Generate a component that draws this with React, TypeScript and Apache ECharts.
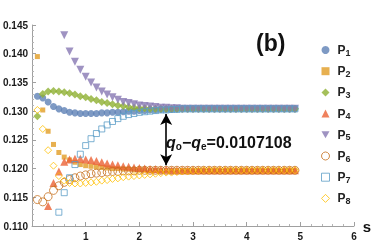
import React, { useEffect, useRef } from "react";
import * as echarts from "echarts";

const S = [0.1, 0.2, 0.3, 0.4, 0.5, 0.6, 0.7, 0.8, 0.9, 1.0, 1.1, 1.2, 1.3, 1.4, 1.5, 1.6, 1.7, 1.8, 1.9, 2.0, 2.1, 2.2, 2.3, 2.4, 2.5, 2.6, 2.7, 2.8, 2.9, 3.0, 3.1, 3.2, 3.3, 3.4, 3.5, 3.6, 3.7, 3.8, 3.9, 4.0, 4.1, 4.2, 4.3, 4.4, 4.5, 4.6, 4.7, 4.8, 4.9];

const P1 = [0.1326, 0.1323, 0.1316, 0.1308, 0.1304, 0.1301, 0.1298, 0.1297, 0.1296, 0.1296, 0.1296, 0.1296, 0.1297, 0.1297, 0.1298, 0.1298, 0.1299, 0.1300, 0.1300, 0.1301, 0.1301, 0.1302, 0.1302, 0.1303, 0.1303, 0.1303, 0.1304, 0.1304, 0.1304, 0.1304, 0.1304, 0.1304, 0.1304, 0.1304, 0.1304, 0.1304, 0.1304, 0.1304, 0.1304, 0.1304, 0.1304, 0.1304, 0.1304, 0.1304, 0.1304, 0.1304, 0.1304, 0.1304, 0.1304];
const P2 = [0.1395, 0.1302, 0.1265, 0.1242, 0.1228, 0.1220, 0.1215, 0.1211, 0.1207, 0.1205, 0.1204, 0.1203, 0.1202, 0.1201, 0.1200, 0.1200, 0.1199, 0.1199, 0.1198, 0.1198, 0.1198, 0.1197, 0.1197, 0.1197, 0.1197, 0.1197, 0.1197, 0.1197, 0.1197, 0.1197, 0.1197, 0.1197, 0.1197, 0.1197, 0.1197, 0.1197, 0.1197, 0.1197, 0.1197, 0.1197, 0.1197, 0.1197, 0.1197, 0.1197, 0.1197, 0.1197, 0.1197, 0.1197, 0.1197];
const P3 = [0.1291, 0.1330, 0.1334, 0.1335, 0.1334, 0.1333, 0.1331, 0.1329, 0.1326, 0.1324, 0.1321, 0.1319, 0.1316, 0.1314, 0.1312, 0.1310, 0.1309, 0.1307, 0.1306, 0.1305, 0.1305, 0.1304, 0.1304, 0.1304, 0.1304, 0.1304, 0.1304, 0.1304, 0.1304, 0.1304, 0.1304, 0.1304, 0.1304, 0.1304, 0.1304, 0.1304, 0.1304, 0.1304, 0.1304, 0.1304, 0.1304, 0.1304, 0.1304, 0.1304, 0.1304, 0.1304, 0.1304, 0.1304, 0.1304];
const P4 = [null, null, 0.1135, 0.1175, 0.1195, 0.1212, 0.1216, 0.1217, 0.1217, 0.1216, 0.1215, 0.1213, 0.1211, 0.1209, 0.1207, 0.1206, 0.1204, 0.1203, 0.1202, 0.1201, 0.1200, 0.1199, 0.1199, 0.1198, 0.1198, 0.1197, 0.1197, 0.1197, 0.1197, 0.1197, 0.1197, 0.1197, 0.1197, 0.1197, 0.1197, 0.1197, 0.1197, 0.1197, 0.1197, 0.1197, 0.1197, 0.1197, 0.1197, 0.1197, 0.1197, 0.1197, 0.1197, 0.1197, 0.1197];
const P5 = [null, null, null, null, null, 0.1432, 0.1404, 0.1386, 0.1372, 0.1360, 0.1350, 0.1341, 0.1334, 0.1329, 0.1324, 0.1320, 0.1316, 0.1314, 0.1312, 0.1310, 0.1309, 0.1308, 0.1307, 0.1306, 0.1306, 0.1305, 0.1305, 0.1304, 0.1304, 0.1304, 0.1304, 0.1304, 0.1304, 0.1304, 0.1304, 0.1304, 0.1304, 0.1304, 0.1304, 0.1304, 0.1304, 0.1304, 0.1304, 0.1304, 0.1304, 0.1304, 0.1304, 0.1304, 0.1304];
const P6 = [0.1146, 0.1142, 0.1151, 0.1162, 0.1170, 0.1176, 0.1181, 0.1184, 0.1187, 0.1189, 0.1191, 0.1192, 0.1193, 0.1194, 0.1195, 0.1195, 0.1196, 0.1196, 0.1196, 0.1197, 0.1197, 0.1197, 0.1197, 0.1197, 0.1197, 0.1197, 0.1197, 0.1197, 0.1197, 0.1197, 0.1197, 0.1197, 0.1197, 0.1197, 0.1197, 0.1197, 0.1197, 0.1197, 0.1197, 0.1197, 0.1197, 0.1197, 0.1197, 0.1197, 0.1197, 0.1197, 0.1197, 0.1197, 0.1197];
const P7 = [null, null, null, null, 0.1124, 0.1158, 0.1184, 0.1207, 0.1225, 0.1240, 0.1252, 0.1261, 0.1269, 0.1276, 0.1282, 0.1287, 0.1291, 0.1294, 0.1296, 0.1298, 0.1299, 0.1300, 0.1301, 0.1302, 0.1302, 0.1303, 0.1303, 0.1304, 0.1304, 0.1304, 0.1304, 0.1304, 0.1304, 0.1304, 0.1304, 0.1304, 0.1304, 0.1304, 0.1304, 0.1304, 0.1304, 0.1304, 0.1304, 0.1304, 0.1304, 0.1304, 0.1304, 0.1304, 0.1304];
const P8 = [0.1302, 0.1269, 0.1232, 0.1205, 0.1187, 0.1179, 0.1175, 0.1174, 0.1174, 0.1175, 0.1176, 0.1177, 0.1179, 0.1180, 0.1182, 0.1183, 0.1185, 0.1186, 0.1187, 0.1188, 0.1189, 0.1190, 0.1191, 0.1192, 0.1193, 0.1193, 0.1194, 0.1195, 0.1195, 0.1196, 0.1196, 0.1197, 0.1197, 0.1197, 0.1197, 0.1197, 0.1197, 0.1197, 0.1197, 0.1197, 0.1197, 0.1197, 0.1197, 0.1197, 0.1197, 0.1197, 0.1197, 0.1197, 0.1197];

const NAMES = ["P1", "P2", "P3", "P4", "P5", "P6", "P7", "P8"];
const SERIES = [P1, P2, P3, P4, P5, P6, P7, P8];
const COLORS = ["#5E81B5", "#E19C24", "#8FB032", "#EB6235", "#8778B3", "#C56E1A", "#5D9EC7", "#FFBF00"];
const SYMBOLS = ["circle", "rect", "diamond", "triangle", "triangle", "circle", "rect", "diamond"];
const LEGEND_ICONS = ["circle", "rect", "diamond", "triangle", "path://M0,0L20,0L10,17.3Z", "circle", "rect", "diamond"];
const SIZES = [7, 5, 8, 8, 8, 8, 6, 7];
const ROTATE = [0, 0, 0, 0, 180, 0, 0, 0];
const HOLLOW = [false, false, false, false, false, true, true, true];

const ARROW_S = 2.5;
const ARROW_TOP = 0.1295;
const ARROW_BOTTOM = 0.1206;
const DIFF_TEXT = "=0.0107108";

const FONT = "Liberation Sans, Arial, sans-serif";

export default function App() {
  const ref = useRef<HTMLDivElement>(null);
  useEffect(() => {
    const chart = echarts.init(ref.current!, null, { renderer: "svg" });
    const series: any[] = SERIES.map((vals, k) => ({
      name: NAMES[k],
      type: "scatter",
      data: S.map((s, i) => (vals[i] == null ? null : [s, vals[i]])).filter((d) => d !== null),
      symbol: SYMBOLS[k],
      symbolSize: SIZES[k],
      symbolRotate: ROTATE[k],
      silent: true,
      itemStyle: HOLLOW[k]
        ? { color: "transparent", borderColor: COLORS[k], borderWidth: 1 }
        : { color: COLORS[k] },
    }));
    series.push({
      type: "scatter",
      data: [],
      silent: true,
      markLine: {
        silent: true,
        symbol: ["arrow", "arrow"],
        symbolSize: [9, 11],
        label: { show: false },
        lineStyle: { color: "#000", width: 1.6, type: "solid" },
        data: [[{ coord: [ARROW_S, ARROW_TOP] }, { coord: [ARROW_S, ARROW_BOTTOM] }]],
      },
    });
    chart.setOption({
      animation: false,
      grid: { left: 30, right: 17, top: 25, bottom: 14 },
      xAxis: {
        type: "value",
        min: 0,
        max: 6,
        interval: 1,
        name: "s",
        nameLocation: "end",
        nameGap: 6,
        nameTextStyle: { fontFamily: FONT, fontWeight: "bold", fontSize: 15, color: "#111", verticalAlign: "middle", padding: [0, 0, 4, 0] },
        axisLine: { onZero: false, lineStyle: { color: "#a0a0a0", width: 1 } },
        axisTick: { inside: true, length: 4, lineStyle: { color: "#a0a0a0" } },
        minorTick: { show: true, splitNumber: 5, length: 2, lineStyle: { color: "#b5b5b5" } },
        splitLine: { show: false },
        axisLabel: { showMinLabel: false, margin: 5, fontFamily: FONT, fontWeight: "bold", fontSize: 10, color: "#1a1a1a" },
      },
      yAxis: {
        type: "value",
        min: 0.11,
        max: 0.145,
        interval: 0.005,
        axisLine: { show: true, onZero: false, lineStyle: { color: "#a0a0a0", width: 1 } },
        axisTick: { show: true, inside: true, length: 4, lineStyle: { color: "#a0a0a0" } },
        minorTick: { show: true, splitNumber: 5, length: 2, lineStyle: { color: "#b5b5b5" } },
        splitLine: { show: false },
        axisLabel: {
          margin: 4,
          fontFamily: FONT,
          fontWeight: "bold",
          fontSize: 10,
          color: "#1a1a1a",
          formatter: (v: number) => v.toFixed(3),
        },
      },
      legend: {
        orient: "vertical",
        left: 321,
        top: 44,
        padding: 0,
        itemGap: 8.2,
        itemWidth: 8,
        itemHeight: 8,
        selectedMode: false,
        data: NAMES.map((n, k) => ({
          name: n,
          icon: LEGEND_ICONS[k],
          itemStyle: HOLLOW[k]
            ? { color: "transparent", borderColor: COLORS[k], borderWidth: 1 }
            : { color: COLORS[k], borderWidth: 0 },
        })),
        formatter: (n: string) => `{p|P}{s|${n.slice(1)}}`,
        textStyle: {
          rich: {
            p: { fontFamily: FONT, fontWeight: "bold", fontSize: 12, color: "#222", lineHeight: 14, padding: [0, 0, 0, 3] },
            s: { fontFamily: FONT, fontWeight: "bold", fontSize: 9, color: "#222", lineHeight: 9, verticalAlign: "bottom" },
          },
        },
      },
      graphic: [
        {
          type: "text",
          left: 256,
          top: 31,
          style: { text: "(b)", fontFamily: FONT, fontWeight: "bold", fontSize: 23, fill: "#111" },
        },
        {
          type: "text",
          x: 166,
          y: 142,
          style: {
            text: `{q|q}{sb|o}{n|−}{q|q}{sb|e}{n|${DIFF_TEXT}}`,
            verticalAlign: "middle",
            rich: {
              q: { fontFamily: FONT, fontWeight: "bold", fontStyle: "italic", fontSize: 16, fill: "#111", lineHeight: 18 },
              n: { fontFamily: FONT, fontWeight: "bold", fontSize: 16, fill: "#111", lineHeight: 18 },
              sb: { fontFamily: FONT, fontWeight: "bold", fontSize: 10, fill: "#111", lineHeight: 10, verticalAlign: "bottom" },
            },
          },
        },
      ],
      series,
    });
    return () => chart.dispose();
  }, []);
  return <div ref={ref} style={{ position: "fixed", left: 0, top: 0, width: 374, height: 241 }} />;
}
